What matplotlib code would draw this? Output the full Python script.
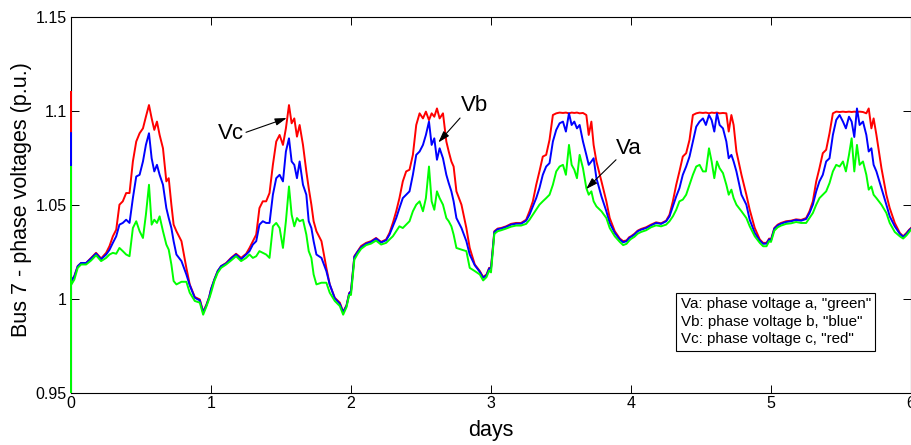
import matplotlib
matplotlib.use("Agg")
import matplotlib.pyplot as plt
from matplotlib.transforms import Bbox, TransformedBbox

plt.rcParams['font.family'] = ['Liberation Sans', 'DejaVu Sans']

# Sample times within each day (fraction of a day)
offsets = [0.000, 0.024, 0.048, 0.072, 0.108, 0.143, 0.179, 0.215, 0.251, 0.275,
           0.299, 0.323, 0.346, 0.370, 0.394, 0.418, 0.442, 0.466, 0.490, 0.514,
           0.535, 0.557, 0.576, 0.595, 0.614, 0.633, 0.657, 0.681, 0.698, 0.717,
           0.733, 0.753, 0.789, 0.824, 0.848, 0.884, 0.920, 0.944, 0.968, 0.987]

# Start-up transient at t = 0
t_init = [0.0, 0.0]
va_init = [0.0, 1.070]
vb_init = [0.0, 1.088]
vc_init = [0.0, 1.110]

# Phase a voltage (p.u.), one list per day
va_days = [
    [1.0072, 1.0102, 1.0164, 1.0182, 1.0182, 1.0203, 1.0231, 1.0200, 1.0217, 1.0235,
     1.0244, 1.0239, 1.0270, 1.0253, 1.0235, 1.0226, 1.0376, 1.0412, 1.0359, 1.0323,
     1.0447, 1.0606, 1.0394, 1.0420, 1.0403, 1.0438, 1.0359, 1.0288, 1.0261, 1.0182,
     1.0094, 1.0076, 1.0090, 1.0090, 1.0032, 0.9988, 0.9979, 0.9915, 0.9960, 1.0000],
    [1.0030, 1.0094, 1.0138, 1.0164, 1.0182, 1.0203, 1.0226, 1.0200, 1.0217, 1.0235,
     1.0217, 1.0226, 1.0253, 1.0244, 1.0235, 1.0217, 1.0385, 1.0403, 1.0376, 1.0270,
     1.0412, 1.0597, 1.0447, 1.0385, 1.0429, 1.0412, 1.0420, 1.0341, 1.0253, 1.0217,
     1.0129, 1.0076, 1.0085, 1.0085, 1.0032, 0.9988, 0.9961, 0.9915, 0.9955, 1.0020],
    [1.0020, 1.0208, 1.0239, 1.0265, 1.0285, 1.0293, 1.0309, 1.0288, 1.0297, 1.0315,
     1.0332, 1.0359, 1.0385, 1.0376, 1.0394, 1.0412, 1.0465, 1.0500, 1.0518, 1.0465,
     1.0535, 1.0703, 1.0518, 1.0473, 1.0571, 1.0535, 1.0500, 1.0429, 1.0412, 1.0385,
     1.0341, 1.0270, 1.0261, 1.0253, 1.0164, 1.0147, 1.0129, 1.0097, 1.0115, 1.0150],
    [1.0140, 1.0345, 1.0359, 1.0364, 1.0373, 1.0383, 1.0389, 1.0389, 1.0398, 1.0420,
     1.0447, 1.0473, 1.0500, 1.0518, 1.0535, 1.0553, 1.0606, 1.0677, 1.0703, 1.0712,
     1.0659, 1.0818, 1.0712, 1.0686, 1.0641, 1.0765, 1.0694, 1.0588, 1.0553, 1.0571,
     1.0518, 1.0491, 1.0465, 1.0429, 1.0376, 1.0332, 1.0302, 1.0285, 1.0292, 1.0309],
    [1.0318, 1.0329, 1.0346, 1.0355, 1.0364, 1.0380, 1.0390, 1.0385, 1.0394, 1.0412,
     1.0438, 1.0473, 1.0518, 1.0527, 1.0553, 1.0606, 1.0659, 1.0703, 1.0712, 1.0677,
     1.0677, 1.0800, 1.0730, 1.0641, 1.0730, 1.0694, 1.0668, 1.0606, 1.0553, 1.0580,
     1.0535, 1.0500, 1.0465, 1.0429, 1.0385, 1.0332, 1.0297, 1.0279, 1.0279, 1.0306],
    [1.0302, 1.0362, 1.0380, 1.0389, 1.0398, 1.0401, 1.0408, 1.0403, 1.0403, 1.0429,
     1.0456, 1.0500, 1.0535, 1.0553, 1.0571, 1.0615, 1.0677, 1.0712, 1.0703, 1.0730,
     1.0677, 1.0765, 1.0853, 1.0677, 1.0818, 1.0712, 1.0730, 1.0659, 1.0580, 1.0597,
     1.0553, 1.0535, 1.0500, 1.0456, 1.0403, 1.0355, 1.0332, 1.0320, 1.0337, 1.0355],
]

# Phase b voltage (p.u.)
vb_days = [
    [1.0090, 1.0120, 1.0173, 1.0190, 1.0190, 1.0214, 1.0240, 1.0210, 1.0235, 1.0260,
     1.0297, 1.0332, 1.0394, 1.0403, 1.0420, 1.0403, 1.0535, 1.0650, 1.0659, 1.0730,
     1.0818, 1.0880, 1.0747, 1.0677, 1.0712, 1.0659, 1.0606, 1.0482, 1.0429, 1.0376,
     1.0306, 1.0235, 1.0200, 1.0129, 1.0072, 1.0005, 0.9991, 0.9927, 0.9966, 1.0007],
    [1.0050, 1.0102, 1.0147, 1.0173, 1.0187, 1.0214, 1.0235, 1.0210, 1.0235, 1.0253,
     1.0288, 1.0306, 1.0394, 1.0412, 1.0403, 1.0403, 1.0553, 1.0641, 1.0659, 1.0624,
     1.0783, 1.0853, 1.0730, 1.0712, 1.0641, 1.0730, 1.0606, 1.0553, 1.0412, 1.0376,
     1.0306, 1.0235, 1.0217, 1.0147, 1.0076, 1.0002, 0.9973, 0.9928, 0.9962, 1.0027],
    [1.0040, 1.0223, 1.0250, 1.0274, 1.0293, 1.0302, 1.0320, 1.0299, 1.0311, 1.0341,
     1.0385, 1.0429, 1.0482, 1.0535, 1.0553, 1.0571, 1.0659, 1.0765, 1.0783, 1.0818,
     1.0871, 1.0942, 1.0818, 1.0853, 1.0739, 1.0800, 1.0747, 1.0659, 1.0615, 1.0571,
     1.0518, 1.0429, 1.0376, 1.0306, 1.0235, 1.0178, 1.0143, 1.0111, 1.0125, 1.0161],
    [1.0160, 1.0355, 1.0370, 1.0373, 1.0382, 1.0394, 1.0399, 1.0399, 1.0415, 1.0447,
     1.0491, 1.0535, 1.0588, 1.0659, 1.0703, 1.0721, 1.0836, 1.0898, 1.0933, 1.0942,
     1.0889, 1.0986, 1.0924, 1.0942, 1.0906, 1.0924, 1.0836, 1.0765, 1.0712, 1.0730,
     1.0747, 1.0641, 1.0544, 1.0465, 1.0403, 1.0350, 1.0315, 1.0300, 1.0306, 1.0323],
    [1.0329, 1.0341, 1.0359, 1.0367, 1.0376, 1.0390, 1.0403, 1.0398, 1.0412, 1.0438,
     1.0491, 1.0544, 1.0588, 1.0659, 1.0703, 1.0756, 1.0836, 1.0915, 1.0942, 1.0959,
     1.0924, 1.0977, 1.0950, 1.0889, 1.0986, 1.0924, 1.0906, 1.0836, 1.0747, 1.0765,
     1.0730, 1.0677, 1.0553, 1.0500, 1.0420, 1.0350, 1.0309, 1.0292, 1.0293, 1.0316],
    [1.0311, 1.0373, 1.0390, 1.0399, 1.0408, 1.0412, 1.0419, 1.0415, 1.0424, 1.0456,
     1.0500, 1.0571, 1.0624, 1.0659, 1.0730, 1.0747, 1.0871, 1.0951, 1.0977, 1.0942,
     1.0906, 1.0968, 1.0942, 1.0860, 1.1012, 1.0924, 1.0942, 1.0871, 1.0783, 1.0800,
     1.0712, 1.0677, 1.0588, 1.0500, 1.0438, 1.0385, 1.0345, 1.0329, 1.0345, 1.0364],
]

# Phase c voltage (p.u.)
vc_days = [
    [1.0094, 1.0120, 1.0173, 1.0190, 1.0190, 1.0217, 1.0244, 1.0214, 1.0244, 1.0280,
     1.0332, 1.0367, 1.0500, 1.0518, 1.0562, 1.0562, 1.0730, 1.0836, 1.0880, 1.0906,
     1.0968, 1.1030, 1.0960, 1.0898, 1.0942, 1.0871, 1.0800, 1.0624, 1.0641, 1.0500,
     1.0394, 1.0359, 1.0306, 1.0164, 1.0076, 1.0009, 0.9996, 0.9930, 0.9970, 1.0010],
    [1.0050, 1.0102, 1.0147, 1.0173, 1.0190, 1.0217, 1.0239, 1.0217, 1.0239, 1.0270,
     1.0306, 1.0341, 1.0482, 1.0518, 1.0518, 1.0562, 1.0712, 1.0836, 1.0871, 1.0818,
     1.0906, 1.1030, 1.0933, 1.0959, 1.0862, 1.0924, 1.0818, 1.0677, 1.0588, 1.0500,
     1.0412, 1.0359, 1.0306, 1.0164, 1.0076, 1.0005, 0.9979, 0.9930, 0.9965, 1.0030],
    [1.0040, 1.0226, 1.0253, 1.0280, 1.0297, 1.0306, 1.0323, 1.0302, 1.0315, 1.0350,
     1.0403, 1.0465, 1.0535, 1.0624, 1.0677, 1.0686, 1.0765, 1.0924, 1.0986, 1.0959,
     1.0995, 1.0950, 1.0986, 1.0968, 1.1012, 1.0959, 1.0986, 1.0836, 1.0783, 1.0730,
     1.0703, 1.0571, 1.0500, 1.0376, 1.0270, 1.0182, 1.0147, 1.0115, 1.0129, 1.0164],
    [1.0164, 1.0359, 1.0373, 1.0376, 1.0385, 1.0398, 1.0403, 1.0403, 1.0420, 1.0465,
     1.0518, 1.0606, 1.0677, 1.0756, 1.0765, 1.0845, 1.0977, 1.0986, 1.0990, 1.0988,
     1.0990, 1.0986, 1.0990, 1.0988, 1.0990, 1.0986, 1.0988, 1.0977, 1.0871, 1.0942,
     1.0818, 1.0730, 1.0624, 1.0518, 1.0429, 1.0359, 1.0320, 1.0306, 1.0310, 1.0327],
    [1.0332, 1.0345, 1.0362, 1.0371, 1.0380, 1.0394, 1.0406, 1.0401, 1.0415, 1.0447,
     1.0518, 1.0606, 1.0677, 1.0756, 1.0774, 1.0845, 1.0977, 1.0986, 1.0990, 1.0988,
     1.0990, 1.0986, 1.0990, 1.0988, 1.0990, 1.0986, 1.0988, 1.0986, 1.0889, 1.0977,
     1.0924, 1.0783, 1.0659, 1.0553, 1.0473, 1.0376, 1.0315, 1.0297, 1.0297, 1.0320],
    [1.0315, 1.0376, 1.0394, 1.0403, 1.0412, 1.0415, 1.0422, 1.0419, 1.0429, 1.0465,
     1.0518, 1.0624, 1.0694, 1.0774, 1.0792, 1.0880, 1.0986, 1.0995, 1.0993, 1.0995,
     1.0993, 1.0995, 1.0993, 1.0995, 1.0993, 1.0995, 1.0993, 1.0986, 1.1012, 1.0906,
     1.0959, 1.0871, 1.0694, 1.0553, 1.0482, 1.0403, 1.0350, 1.0332, 1.0350, 1.0367],
]

# Final sample at the end of day 6
t_end = 6.0
va_end, vb_end, vc_end = 1.0367, 1.0373, 1.0376

xticks = [0, 1, 2, 3, 4, 5, 6]
xtick_labels = ['0', '1', '2', '3', '4', '5', '6']
yticks = [0.95, 1.0, 1.05, 1.1, 1.15]
ytick_labels = ['0.95', '1', '1.05', '1.1', '1.15']

legend_lines = ['Va: phase voltage a, "green"',
                'Vb: phase voltage b, "blue"',
                'Vc: phase voltage c, "red"']


def series(init, days, end):
    return init + [v for day in days for v in day] + [end]


t = t_init + [d + o for d in range(len(va_days)) for o in offsets] + [t_end]
va = series(va_init, va_days, va_end)
vb = series(vb_init, vb_days, vb_end)
vc = series(vc_init, vc_days, vc_end)

fig = plt.figure(figsize=(9.11, 4.45), dpi=100)
ax = fig.add_axes([71 / 911, (445 - 392.7) / 445, 840 / 911, 376 / 445])

# Clip region widened slightly on the left so the trace at t = 0 shows in full
clip = TransformedBbox(Bbox([[-0.003, 0.0], [1.0, 1.0]]), ax.transAxes)

lw = 1.4
for values, colour in ((vc, (1, 0, 0)), (vb, (0, 0, 1)), (va, (0, 1, 0))):
    line, = ax.plot(t, values, color=colour, lw=lw, zorder=3)
    line.set_clip_box(clip)

ax.set_xlim(0, 6)
ax.set_ylim(0.95, 1.15)
ax.set_xticks(xticks, labels=xtick_labels)
ax.set_yticks(yticks, labels=ytick_labels)
ax.tick_params(direction='in', length=6, width=0.7, top=True, right=True,
               labelsize=11.5, colors='black')
ax.tick_params(axis='x', pad=2.5)
ax.tick_params(axis='y', pad=3)
for sp in ax.spines.values():
    sp.set_linewidth(0.8)

ax.set_xlabel('days', fontsize=15.5)
ax.set_ylabel('Bus 7 - phase voltages (p.u.)', fontsize=15.5)
ax.xaxis.set_label_coords(0.5, -0.0726)
ax.yaxis.set_label_coords(-0.0468, 0.5125)

arrow = dict(arrowstyle='-|>,head_length=0.7,head_width=0.22', color='black',
             lw=0.8, mutation_scale=10, shrinkA=0, shrinkB=0)
ax.annotate('', xy=(1.541, 1.0961), xytext=(1.25, 1.0885), arrowprops=arrow)
ax.text(1.146, 1.088, 'Vc', fontsize=16, ha='center', va='center')
ax.annotate('', xy=(2.624, 1.0831), xytext=(2.779, 1.0961), arrowprops=arrow)
ax.text(2.879, 1.1027, 'Vb', fontsize=16, ha='center', va='center')
ax.annotate('', xy=(3.679, 1.0583), xytext=(3.893, 1.0739), arrowprops=arrow)
ax.text(3.986, 1.080, 'Va', fontsize=16, ha='center', va='center')

ax.text(0.7256, 0.2532, '\n'.join(legend_lines), transform=ax.transAxes,
        fontsize=10.9, ha='left', va='top', linespacing=1.3, zorder=5,
        bbox=dict(boxstyle='square,pad=0.3', fc='white', ec='black', lw=0.8))

fig.savefig('out.png', dpi=100)
